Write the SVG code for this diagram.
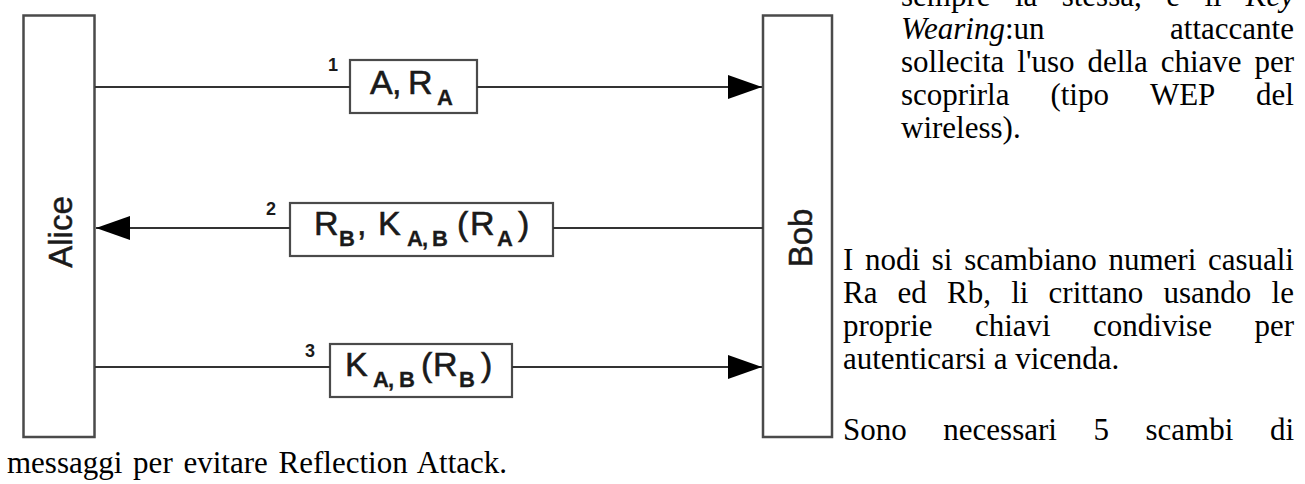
<svg xmlns="http://www.w3.org/2000/svg" width="1305" height="484" viewBox="0 0 1305 484">
  <style>
    .bg { fill: #ffffff; }
    .party { fill: #ffffff; stroke: #4a4a4a; stroke-width: 2.5; }
    .msg { fill: #ffffff; stroke: #4a4a4a; stroke-width: 2.2; }
    .name { font-family: "Liberation Sans", Arial, sans-serif; font-size: 33px; fill: #1a1a1a; stroke: #1a1a1a; stroke-width: 0.5; text-anchor: middle; }
    .lbl { font-family: "Liberation Sans", Arial, sans-serif; font-size: 34px; fill: #1a1a1a; stroke: #1a1a1a; stroke-width: 0.6; }
    .sub { font-size: 22px; font-weight: bold; stroke-width: 0.3; }
    .num { font-family: "Liberation Sans", Arial, sans-serif; font-size: 18px; font-weight: bold; fill: #1a1a1a; text-anchor: middle; }
    .wire { stroke: #333333; stroke-width: 2; fill: none; }
    .p { font-family: "Liberation Serif", "Times New Roman", serif; font-size: 31px; fill: #000000; }
    .it { font-style: italic; }
  </style>
  <defs>
    <marker id="head" viewBox="0 0 34 24" refX="34" refY="12" markerWidth="34" markerHeight="24" markerUnits="userSpaceOnUse" orient="auto">
      <path d="M0,0 L34,12 L0,24 Z" fill="#000000"/>
    </marker>
  </defs>

  <rect class="bg" x="0" y="0" width="1305" height="484"/>

  <!-- protocol participants -->
  <g id="alice">
    <rect class="party" x="23.5" y="15.5" width="71" height="421.5"/>
    <text class="name" transform="translate(72,232) rotate(-90)">Alice</text>
  </g>
  <g id="bob">
    <rect class="party" x="763" y="15.5" width="69" height="421.5"/>
    <text class="name" transform="translate(812,238) rotate(-90)">Bob</text>
  </g>

  <!-- message 1: A, R_A -->
  <g id="msg1">
    <rect class="msg" x="350" y="60" width="127" height="53"/>
    <text class="num" x="333" y="71">1</text>
    <text class="lbl"><tspan x="370" y="94">A</tspan><tspan x="392" y="94">,</tspan><tspan x="408" y="94">R</tspan><tspan class="sub" x="437" y="105">A</tspan></text>
  </g>

  <!-- message 2: R_B, K_A,B(R_A) -->
  <g id="msg2">
    <rect class="msg" x="290" y="203" width="263" height="53"/>
    <text class="num" x="271" y="215">2</text>
    <text class="lbl"><tspan x="314" y="235">R</tspan><tspan class="sub" x="339" y="246">B</tspan><tspan x="357" y="235">,</tspan><tspan x="378" y="235">K</tspan><tspan class="sub" x="407" y="246">A</tspan><tspan class="sub" x="422" y="246">,</tspan><tspan class="sub" x="432" y="246">B</tspan><tspan x="457" y="235">(</tspan><tspan x="470" y="235">R</tspan><tspan class="sub" x="497" y="246">A</tspan><tspan x="518" y="235">)</tspan></text>
  </g>

  <!-- message 3: K_A,B(R_B) -->
  <g id="msg3">
    <rect class="msg" x="330" y="344" width="182" height="53"/>
    <text class="num" x="310" y="357">3</text>
    <text class="lbl"><tspan x="345" y="376">K</tspan><tspan class="sub" x="373" y="387">A</tspan><tspan class="sub" x="388" y="387">,</tspan><tspan class="sub" x="399" y="387">B</tspan><tspan x="421" y="376">(</tspan><tspan x="433" y="376">R</tspan><tspan class="sub" x="459" y="387">B</tspan><tspan x="481" y="376">)</tspan></text>
  </g>

  <!-- connectors -->
  <g id="connectors">
    <path class="wire" d="M95,87 H350"/>
    <path class="wire" d="M477,87 H762" marker-end="url(#head)"/>
    <path class="wire" d="M763,228 H553"/>
    <path class="wire" d="M290,228 H96" marker-end="url(#head)"/>
    <path class="wire" d="M95,367 H330"/>
    <path class="wire" d="M512,367 H762" marker-end="url(#head)"/>
  </g>

  <!-- surrounding prose, justified line by line -->
  <g id="prose">
    <text class="p"><tspan x="901" y="6">sempre</tspan><tspan x="1014.9" y="6">la</tspan><tspan x="1061.7" y="6">stessa,</tspan><tspan x="1166.2" y="6">è</tspan><tspan x="1204.4" y="6">il</tspan><tspan class="it" x="1245.8" y="6">Key</tspan></text>
    <text class="p"><tspan class="it" x="901" y="39">Wearing</tspan><tspan>:un</tspan><tspan x="1170.1" y="39">attaccante</tspan></text>
    <text class="p"><tspan x="901" y="72">sollecita</tspan><tspan x="1017.3" y="72">l'uso</tspan><tspan x="1087.5" y="72">della</tspan><tspan x="1160.7" y="72">chiave</tspan><tspan x="1254.4" y="72">per</tspan></text>
    <text class="p"><tspan x="901" y="105">scoprirla</tspan><tspan x="1050.4" y="105">(tipo</tspan><tspan x="1149.9" y="105">WEP</tspan><tspan x="1256.1" y="105">del</tspan></text>
    <text class="p" x="901" y="138">wireless).</text>

    <text class="p"><tspan x="843" y="270">I</tspan><tspan x="865" y="270">nodi</tspan><tspan x="931.8" y="270">si</tspan><tspan x="964.2" y="270">scambiano</tspan><tspan x="1108.5" y="270">numeri</tspan><tspan x="1207.9" y="270">casuali</tspan></text>
    <text class="p"><tspan x="843" y="303">Ra</tspan><tspan x="897.6" y="303">ed</tspan><tspan x="947.1" y="303">Rb,</tspan><tspan x="1011.2" y="303">li</tspan><tspan x="1048.6" y="303">crittano</tspan><tspan x="1163.5" y="303">usando</tspan><tspan x="1271.6" y="303">le</tspan></text>
    <text class="p"><tspan x="843" y="336">proprie</tspan><tspan x="974.9" y="336">chiavi</tspan><tspan x="1093.1" y="336">condivise</tspan><tspan x="1254.4" y="336">per</tspan></text>
    <text class="p" x="843" y="369">autenticarsi a vicenda.</text>

    <text class="p"><tspan x="843" y="440">Sono</tspan><tspan x="943.3" y="440">necessari</tspan><tspan x="1093.4" y="440">5</tspan><tspan x="1145.5" y="440">scambi</tspan><tspan x="1269.9" y="440">di</tspan></text>
    <text class="p" x="7" y="473" word-spacing="3">messaggi per evitare Reflection Attack.</text>
  </g>
</svg>
